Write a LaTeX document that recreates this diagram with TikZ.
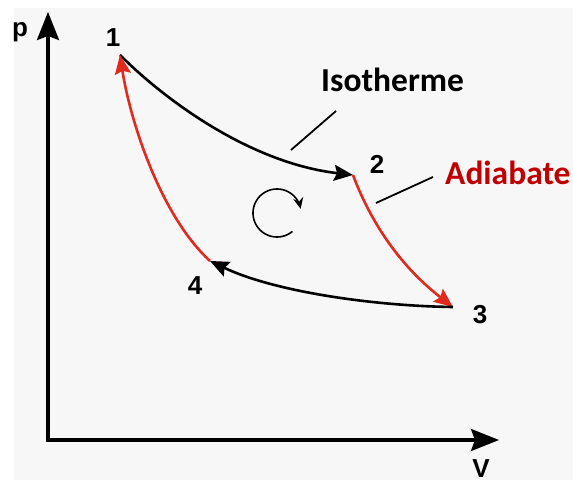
\documentclass[tikz,border=0pt]{standalone}
\usepackage{fontspec}
\setmainfont{Liberation Sans}
\newfontfamily\calib{Carlito}
\usetikzlibrary{arrows.meta}
\definecolor{bggray}{HTML}{F7F7F7}
\definecolor{cyclered}{HTML}{E02A1E}
\definecolor{labelred}{HTML}{C00000}
\tikzset{
  axis/.style={line width=3.2pt, -{Stealth[length=28pt,width=22pt,inset=4pt]}},
  blackproc/.style={line width=2.6pt, black, -{Stealth[length=19pt,width=16pt,inset=3pt]}},
  redproc/.style={line width=2.6pt, cyclered, -{Stealth[length=19pt,width=16pt,inset=3pt]}},
  leader/.style={line width=1.8pt, black},
  ptlabel/.style={font=\fontsize{26}{28}\selectfont\bfseries, inner sep=0pt, anchor=base},
  biglabel/.style={font=\calib\fontsize{33.5}{36}\selectfont\bfseries, inner sep=0pt, anchor=base west},
}
\begin{document}
\begin{tikzpicture}[x=1pt,y=-1pt]
\useasboundingbox (0,0) rectangle (573,484);
\fill[white] (0,0) rectangle (573,484);
\fill[bggray] (14,8) rectangle (573,480);
% axes
\coordinate (O) at (48,440);
\coordinate (Ytip) at (48,12);
\coordinate (Xtip) at (499,440);
\draw[axis] (O) -- (Ytip);
\draw[axis] ([xshift=-1.6pt]O) -- (Xtip);
\node[ptlabel] (plab) at (20,37) {p};
\node[ptlabel] (vlab) at (481,477) {V};
% cycle points
\coordinate (P1) at (120,55);
\coordinate (P2) at (353,175);
\coordinate (P3) at (453,307);
\coordinate (P4) at (210,261);
\draw[blackproc] (P1) .. controls (165,100) and (250,163) .. (P2);
\draw[redproc] (P2) .. controls (368,215) and (395,262) .. (P3);
\draw[blackproc] (P3) .. controls (375,306) and (275,292) .. (P4);
\draw[redproc] (P4) .. controls (160,215) and (130,120) .. (P1);
% point labels
\node[ptlabel] (n1) at (113,47) {1};
\node[ptlabel] (n2) at (377,174) {2};
\node[ptlabel] (n3) at (480,323) {3};
\node[ptlabel] (n4) at (195,294) {4};
% rotation sense
\draw[line width=1.6pt, -{Stealth[length=11pt,width=10pt]}]
  plot[domain=50:350, samples=60] ({277+24*cos(\x)}, {213+24*sin(\x)});
% labels with leaders
\node[biglabel] (iso) at (321,92) {Isotherme};
\node[biglabel, text=labelred] (adi) at (445,184) {Adiabate};
\coordinate (isoA) at (291,150);
\coordinate (isoB) at (336,111);
\coordinate (adiA) at (376,203);
\coordinate (adiB) at (433,177);
\draw[leader] (isoA) -- (isoB);
\draw[leader] (adiA) -- (adiB);
\end{tikzpicture}
\end{document}
